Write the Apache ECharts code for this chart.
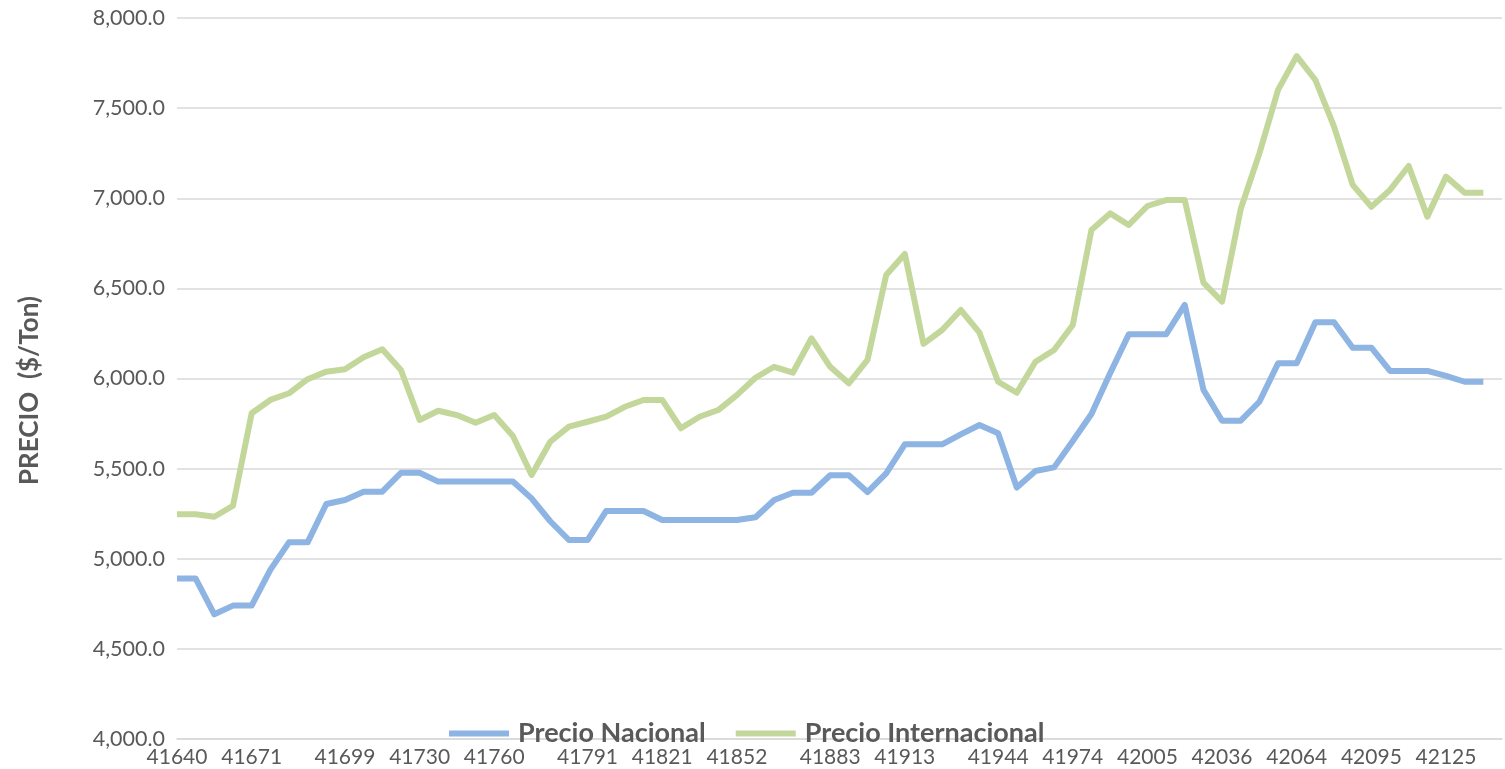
<!DOCTYPE html>
<html>
<head>
<meta charset="utf-8">
<script src="https://cdn.jsdelivr.net/npm/echarts@6/dist/echarts.min.js"></script>
<style>
html,body{margin:0;padding:0;background:#fff;}
#chart{width:1505px;height:769px;}
</style>
</head>
<body>
<div id="chart"></div>
<script>
// Weekly categories; month label (Excel serial) on first week of each month
const monthLabels = ['41640','41671','41699','41730','41760','41791','41821','41852','41883','41913','41944','41974','42005','42036','42064','42095','42125'];
const weeksPerMonth = [4,5,4,4,5,4,4,5,4,5,4,4,4,4,4,4,4];
const categories = [];
monthLabels.forEach((m, k) => {
  for (let w = 0; w < weeksPerMonth[k]; w++) categories.push(w === 0 ? m : '');
});

const seriesNames = ['Precio Nacional', 'Precio Internacional'];

const precioNacional = [
  4890,4890,4692,4740,4740,4938,5091,5091,5304,5326,
  5372,5372,5477,5477,5428,5428,5428,5428,5428,5335,
  5208,5104,5104,5265,5265,5265,5215,5215,5215,5215,
  5215,5230,5326,5366,5366,5463,5463,5370,5474,5635,
  5635,5635,5690,5742,5696,5395,5487,5507,5653,5803,
  6029,6245,6245,6245,6408,5938,5766,5766,5871,6084,
  6084,6312,6312,6171,6171,6042,6042,6042,6014,5982,
  5982
];

const precioInternacional = [
  5247,5247,5233,5294,5807,5881,5918,5996,6038,6051,
  6118,6162,6047,5770,5821,5797,5755,5797,5681,5465,
  5649,5733,5760,5788,5843,5881,5881,5724,5788,5825,
  5908,6004,6065,6032,6223,6065,5973,6103,6574,6691,
  6192,6269,6380,6254,5982,5921,6093,6158,6297,6824,
  6916,6852,6957,6990,6990,6532,6426,6940,7249,7601,
  7789,7656,7397,7074,6953,7046,7179,6898,7120,7031,
  7031
];

const yTicks = { min: 4000, max: 8000, step: 500 };
const yAxisTitle = 'PRECIO  ($/Ton)';

const chart = echarts.init(document.getElementById('chart'));
const FONT = 'Lato';
const TXT = '#595959';

function fmt(v) {
  return v.toLocaleString('en-US', { minimumFractionDigits: 1, maximumFractionDigits: 1 });
}

chart.setOption({
  backgroundColor: '#ffffff',
  animation: false,
  textStyle: { fontFamily: FONT },
  grid: { left: 177, right: 3, top: 18, bottom: 30, containLabel: false },
  legend: {
    data: seriesNames,
    left: 449,
    top: 720,
    padding: 0,
    itemGap: 30,
    itemWidth: 60,
    itemHeight: 6,
    icon: 'rect',
    textStyle: { fontFamily: FONT, fontSize: 27, fontWeight: 'bold', color: TXT, padding: [0, 0, 0, 4] }
  },
  xAxis: {
    type: 'category',
    data: categories,
    boundaryGap: false,
    axisLine: { show: true, lineStyle: { color: '#D9D9D9', width: 1.5 } },
    axisTick: { show: false },
    axisLabel: {
      interval: 0,
      margin: 8,
      fontFamily: FONT,
      fontSize: 21,
      color: TXT
    },
    splitLine: { show: false }
  },
  yAxis: {
    type: 'value',
    min: yTicks.min,
    max: yTicks.max,
    interval: yTicks.step,
    name: yAxisTitle,
    nameLocation: 'middle',
    nameGap: 134,
    nameTextStyle: { fontFamily: FONT, fontSize: 26, fontWeight: 'bold', color: TXT, padding: [0, 24, 0, 0] },
    axisLine: { show: false },
    axisTick: { show: false },
    axisLabel: {
      margin: 12,
      fontFamily: FONT,
      fontSize: 21.5,
      color: TXT,
      formatter: fmt
    },
    splitLine: { show: true, lineStyle: { color: '#D9D9D9', width: 1.5 } }
  },
  series: [
    {
      name: seriesNames[0],
      type: 'line',
      data: precioNacional,
      symbol: 'none',
      color: '#8DB4E2',
      lineStyle: { width: 6, color: '#8DB4E2', join: 'round', cap: 'butt' }
    },
    {
      name: seriesNames[1],
      type: 'line',
      data: precioInternacional,
      symbol: 'none',
      color: '#C4D79B',
      lineStyle: { width: 6, color: '#C4D79B', join: 'round', cap: 'butt' }
    }
  ]
});
</script>
</body>
</html>
